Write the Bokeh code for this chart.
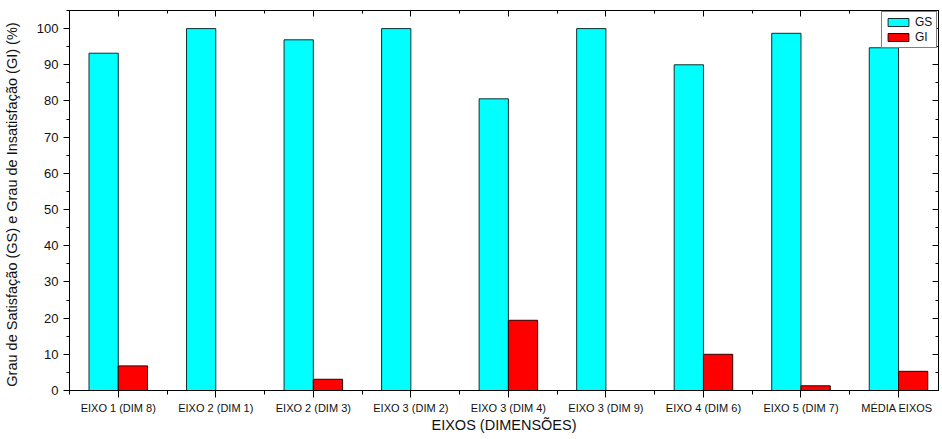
from bokeh.plotting import figure
from bokeh.models import (ColumnDataSource, FixedTicker, LinearAxis, Range1d)
from bokeh.transform import dodge
from bokeh.embed import file_html
from bokeh.resources import INLINE

categories = ["EIXO 1 (DIM 8)", "EIXO 2 (DIM 1)", "EIXO 2 (DIM 3)", "EIXO 3 (DIM 2)",
              "EIXO 3 (DIM 4)", "EIXO 3 (DIM 9)", "EIXO 4 (DIM 6)", "EIXO 5 (DIM 7)",
              "MÉDIA  EIXOS"]
gs = [93.2, 100.0, 96.9, 100.0, 80.6, 100.0, 90.0, 98.7, 94.7]
gi = [6.8, 0.0, 3.1, 0.0, 19.4, 0.0, 10.0, 1.3, 5.3]
y_ticks = [0, 10, 20, 30, 40, 50, 60, 70, 80, 90, 100]

xpos = list(range(1, len(categories) + 1))
src = ColumnDataSource(dict(x=xpos, gs=gs, gi=gi, cat=categories))

FONT = "Liberation Sans"
TXT = "#111111"

p = figure(width=942, height=439, output_backend="svg", toolbar_location=None,
           x_range=Range1d(0.5, 9.41), y_range=Range1d(0, 105),
           min_border_left=69, min_border_top=10, min_border_right=4, min_border_bottom=49)
p.xgrid.visible = False
p.ygrid.visible = False
p.outline_line_color = "black"
p.outline_line_width = 1

p.vbar(x=dodge("x", -0.15), top="gs", width=0.3, source=src, fill_color="#00FFFF",
       line_color="#103030", line_width=1, legend_label="GS")
p.vbar(x=dodge("x", 0.15), top="gi", width=0.3, source=src, fill_color="#FF0000",
       line_color="#300000", line_width=1, legend_label="GI")

xt = FixedTicker(ticks=xpos, minor_ticks=[i + 0.5 for i in range(0, len(categories))])
yt = FixedTicker(ticks=y_ticks, minor_ticks=[v + 5 for v in y_ticks])

xa = p.xaxis[0]
xa.ticker = xt
xa.major_label_overrides = {i: c for i, c in zip(xpos, categories)}
xa.axis_label = "EIXOS (DIMENSÕES)"
xa.axis_label_text_font = FONT
xa.axis_label_text_font_style = "normal"
xa.axis_label_text_font_size = "14.5px"
xa.axis_label_text_color = TXT
xa.axis_label_standoff = 0
xa.major_label_text_font = FONT
xa.major_label_text_font_size = "11px"
xa.major_label_text_color = TXT
xa.major_label_standoff = 4
xa.major_tick_out = 7
xa.major_tick_in = 0
xa.minor_tick_out = 4
xa.minor_tick_in = 0
xa.axis_line_color = "black"
xa.major_tick_line_color = "black"
xa.minor_tick_line_color = "black"

ya = p.yaxis[0]
ya.ticker = yt
ya.axis_label = "Grau de Satisfação (GS) e  Grau de Insatisfação (GI)  (%)"
ya.axis_label_text_font = FONT
ya.axis_label_text_font_style = "normal"
ya.axis_label_text_font_size = "14.5px"
ya.axis_label_text_color = TXT
ya.axis_label_standoff = 14
ya.major_label_text_font = FONT
ya.major_label_text_font_size = "13px"
ya.major_label_text_color = TXT
ya.major_label_standoff = 5
ya.major_tick_out = 6
ya.major_tick_in = 0
ya.minor_tick_out = 3
ya.minor_tick_in = 0
ya.axis_line_color = "black"
ya.major_tick_line_color = "black"
ya.minor_tick_line_color = "black"

top = LinearAxis(ticker=FixedTicker(ticks=xpos, minor_ticks=[i + 0.5 for i in range(0, len(categories))]),
                 major_label_text_font_size="0px", major_label_standoff=0,
                 major_tick_in=6, major_tick_out=0, minor_tick_in=3, minor_tick_out=0,
                 major_label_overrides={i: "" for i in xpos})
right = LinearAxis(ticker=FixedTicker(ticks=y_ticks, minor_ticks=[v + 5 for v in y_ticks]),
                   major_label_text_font_size="0px", major_label_standoff=0,
                   major_tick_in=6, major_tick_out=0, minor_tick_in=3, minor_tick_out=0,
                   major_label_overrides={v: "" for v in y_ticks})
p.add_layout(top, "above")
p.add_layout(right, "right")

lg = p.legend[0]
lg.location = "top_right"
lg.margin = 1
lg.padding = 3
lg.spacing = 1
lg.label_standoff = 4
lg.glyph_width = 26
lg.glyph_height = 10
lg.label_height = 12
lg.label_width = 18
lg.label_text_font = FONT
lg.label_text_font_size = "12px"
lg.label_text_color = TXT
lg.border_line_color = "black"
lg.border_line_width = 1
lg.background_fill_alpha = 1

open("out.html", "w").write(file_html(p, INLINE))
